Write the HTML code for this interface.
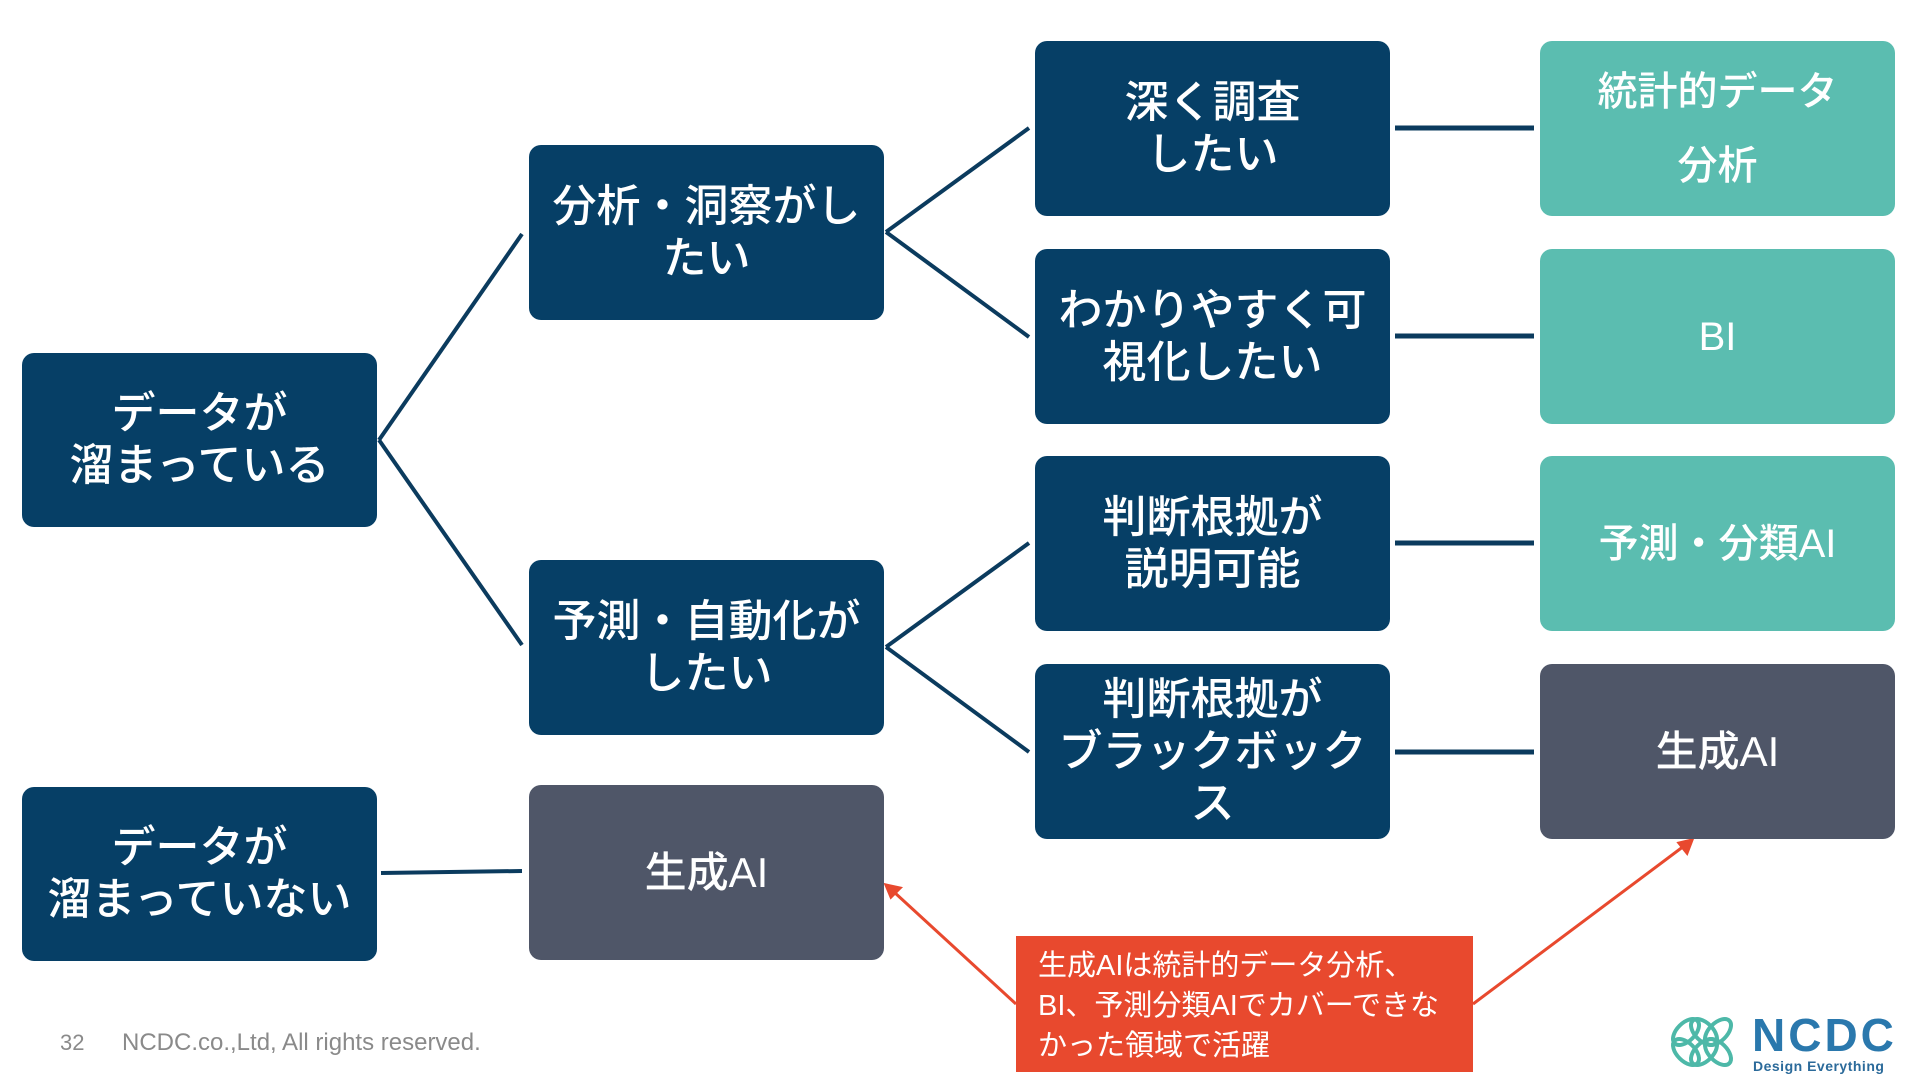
<!DOCTYPE html>
<html><head><meta charset="utf-8"><style>
body{margin:0;width:1920px;height:1085px;background:#fff;position:relative;overflow:hidden;font-family:"Liberation Sans","Noto Sans CJK JP",sans-serif;}
.b{position:absolute;width:355px;height:175px;border-radius:12px;color:#fff;display:flex;align-items:center;justify-content:center;text-align:center;font-size:44px;line-height:52px;white-space:nowrap;font-weight:500;}
.n{background:#063f66}.t{background:#5bbdb0}.g{background:#4f5668}
svg{position:absolute;left:0;top:0}
</style></head><body>
<svg width="1920" height="1085">
<g stroke="#0b3b5e" stroke-width="4" fill="none">
<line x1="379" y1="440" x2="522" y2="234"/>
<line x1="379" y1="440" x2="522" y2="645"/>
<line x1="886" y1="232" x2="1029" y2="128"/>
<line x1="886" y1="232" x2="1029" y2="337"/>
<line x1="886" y1="647" x2="1029" y2="543"/>
<line x1="886" y1="647" x2="1029" y2="752"/>
<line x1="381" y1="873" x2="522" y2="871"/>
</g>
<g stroke="#0b3b5e" stroke-width="5">
<line x1="1395" y1="128" x2="1534" y2="128"/>
<line x1="1395" y1="336" x2="1534" y2="336"/>
<line x1="1395" y1="543" x2="1534" y2="543"/>
<line x1="1395" y1="752" x2="1534" y2="752"/>
</g>
<g stroke="#e8492e" stroke-width="3" fill="#e8492e">
<line x1="1016" y1="1004" x2="894" y2="892"/>
<polygon points="886,885 900,888 891,897" />
<line x1="1473" y1="1004" x2="1684" y2="846"/>
<polygon points="1692,840 1687,853 1679,843"/>
</g>
<g fill="none" stroke="#4db8a8" stroke-width="4">
<ellipse cx="1686" cy="1032" rx="9" ry="16" transform="rotate(45 1686 1032)"/>
<ellipse cx="1686" cy="1052" rx="9" ry="16" transform="rotate(-45 1686 1052)"/>
<ellipse cx="1704" cy="1032" rx="9" ry="16" transform="rotate(-45 1704 1032)"/>
<ellipse cx="1704" cy="1052" rx="9" ry="16" transform="rotate(45 1704 1052)"/>
<ellipse cx="1718" cy="1032" rx="9" ry="16" transform="rotate(45 1718 1032)"/>
<ellipse cx="1718" cy="1052" rx="9" ry="16" transform="rotate(-45 1718 1052)"/>
</g>
</svg>
<div class="b n" style="left:22px;top:353px;height:174px">データが<br>溜まっている</div>
<div class="b n" style="left:22px;top:787px;height:174px">データが<br>溜まっていない</div>
<div class="b n" style="left:529px;top:145px">分析・洞察がし<br>たい</div>
<div class="b n" style="left:529px;top:560px">予測・自動化が<br>したい</div>
<div class="b g" style="left:529px;top:785px;font-size:42px">生成AI</div>
<div class="b n" style="left:1035px;top:41px">深く調査<br>したい</div>
<div class="b n" style="left:1035px;top:249px">わかりやすく可<br>視化したい</div>
<div class="b n" style="left:1035px;top:456px">判断根拠が<br>説明可能</div>
<div class="b n" style="left:1035px;top:664px">判断根拠が<br>ブラックボック<br>ス</div>
<div class="b t" style="left:1540px;top:41px;font-size:40px;line-height:74px">統計的データ<br>分析</div>
<div class="b t" style="left:1540px;top:249px;font-size:40px">BI</div>
<div class="b t" style="left:1540px;top:456px;font-size:40px">予測・分類AI</div>
<div class="b g" style="left:1540px;top:664px;font-size:42px">生成AI</div>
<div style="position:absolute;left:1016px;top:936px;width:457px;height:136px;background:#e8492e;color:#fff;font-size:29px;line-height:40px;padding:10px 0 0 22px;box-sizing:border-box;white-space:nowrap">生成AIは統計的データ分析、<br>BI、予測分類AIでカバーできな<br>かった領域で活躍</div>
<div style="position:absolute;left:60px;top:1030px;font-size:22px;color:#8a8a8a">32</div>
<div style="position:absolute;left:122px;top:1029px;font-size:24px;color:#8a8a8a">NCDC.co.,Ltd, All rights reserved.</div>
<div style="position:absolute;left:1752px;top:1012px;font-size:46px;font-weight:bold;color:#2a78ad;letter-spacing:3px;line-height:46px">NCDC</div>
<div style="position:absolute;left:1753px;top:1058px;font-size:14px;font-weight:bold;color:#2b6a9a;letter-spacing:0.5px">Design Everything</div>
</body></html>
